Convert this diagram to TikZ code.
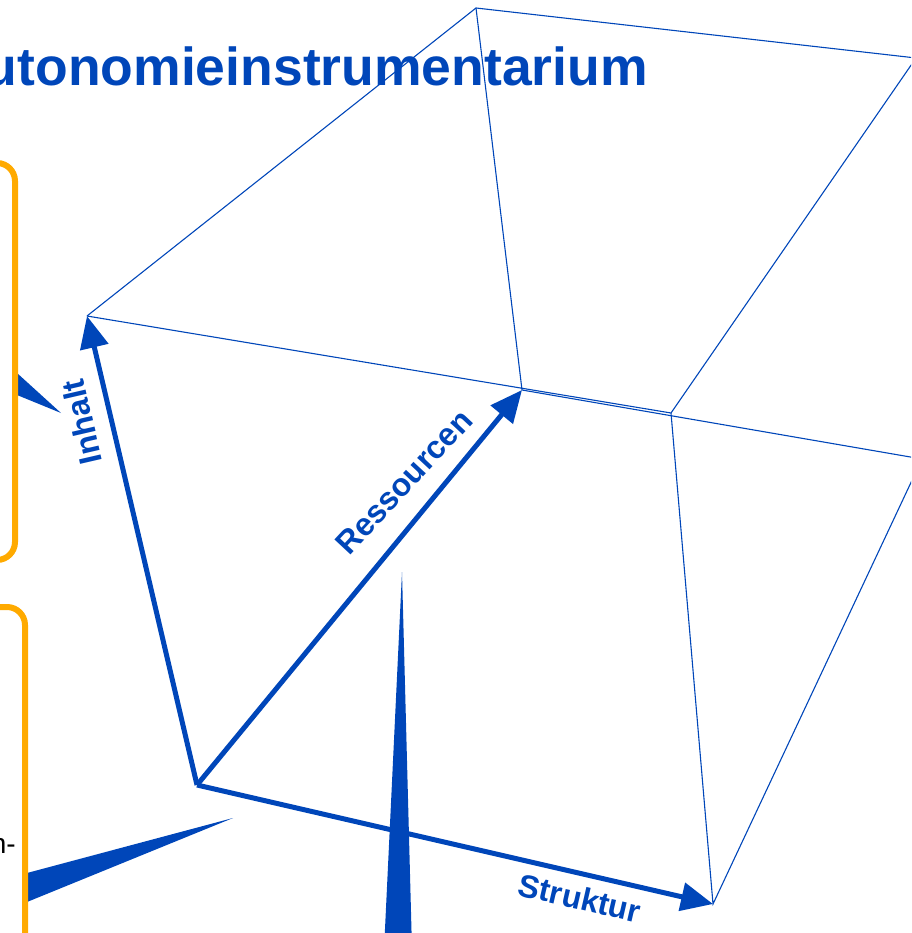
\documentclass[tikz,border=0pt]{standalone}
\usepackage{fontspec}
\setmainfont{Liberation Sans}
\usetikzlibrary{arrows.meta}
\definecolor{slideblue}{RGB}{0,70,185}
\definecolor{slideorange}{RGB}{255,170,0}
\begin{document}
\begin{tikzpicture}[x=1pt,y=-1pt,
  axis/.style={line width=5pt,slideblue,-{Triangle[length=32pt,width=28pt]}},
  edge/.style={line width=1.1pt,slideblue},
  axislabel/.style={slideblue,inner sep=0pt,font=\fontsize{32}{38}\selectfont\bfseries},
  box/.style={line width=6pt,slideorange,rounded corners=18pt}]
\useasboundingbox (0,0) rectangle (911,933);
\clip (0,0) rectangle (911,933);
\node[anchor=base east,inner sep=0pt,slideblue,font=\fontsize{53.5}{62}\selectfont\bfseries] (title) at (648,86) {utonomieinstrumentarium};
\node[anchor=base east,inner sep=0pt,font=\fontsize{28}{34}\selectfont] (hyph) at (16,853) {n-};
\fill[slideblue] (17,373) -- (61,413) -- (17,395) -- cycle;
\fill[slideblue] (27,873) -- (233,818) -- (27,902) -- cycle;
\fill[slideblue] (402,572) -- (412,950) -- (384,950) -- cycle;
\draw[box] (-100,163) rectangle (15,560);
\draw[box] (-100,607) rectangle (25,1000);
\coordinate (O) at (197,785);
\coordinate (A) at (87,316);
\coordinate (R) at (522,390);
\coordinate (S) at (713,904);
\coordinate (T) at (476,8);
\coordinate (P) at (671,413);
\coordinate (Q) at (922,459);
\coordinate (U) at (916,58);
\draw[edge] (A) -- (T) -- (U);
\draw[edge] (T) -- (R) -- (Q);
\draw[edge] (A) -- (P) -- (U);
\draw[edge] (P) -- (S) -- (Q);
\draw[axis] (O) -- (A);
\draw[axis] (O) -- (R);
\draw[axis] (O) -- (S);
\node[axislabel,rotate=103] (inhalt) at (82,422) {Inhalt};
\node[axislabel,rotate=47] (ressourcen) at (404,482) {Ressourcen};
\node[axislabel,rotate=-13] (struktur) at (580,898) {Struktur};
\end{tikzpicture}
\end{document}
